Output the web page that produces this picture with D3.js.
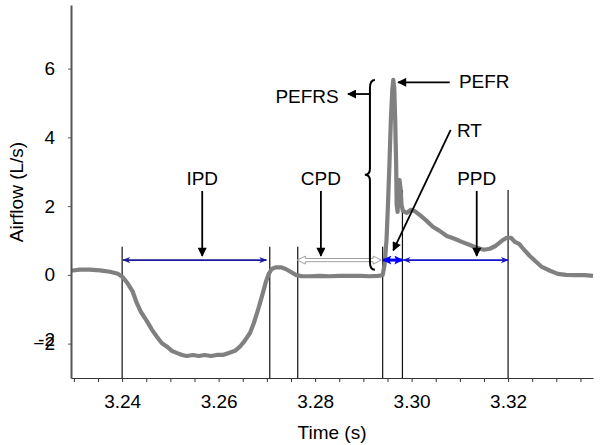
<!DOCTYPE html>
<html>
<head>
<meta charset="utf-8">
<script src="https://cdn.jsdelivr.net/npm/d3@7"></script>
<style>
  body { margin: 0; background: #fff; }
  svg { display: block; font-family: "Liberation Sans", Arial, sans-serif; }
</style>
</head>
<body>
<div id="container"></div>
<script>
"use strict";

// Airflow trace: time (s) and flow (L/s).
const time = [
  3.2294, 3.2312, 3.2333, 3.2354, 3.2375, 3.2391, 3.2401, 3.2412, 3.2422, 3.2430,
  3.2439, 3.2451, 3.2462, 3.2472, 3.2482, 3.2493, 3.2503, 3.2513, 3.2524, 3.2534,
  3.2547, 3.2559, 3.2571, 3.2584, 3.2596, 3.2609, 3.2621, 3.2634, 3.2644, 3.2654,
  3.2665, 3.2673, 3.2681, 3.2690, 3.2698, 3.2704, 3.2710, 3.2718, 3.2729, 3.2739,
  3.2749, 3.2760, 3.2772, 3.2789, 3.2810, 3.2830, 3.2851, 3.2872, 3.2893, 3.2913,
  3.2930, 3.2940, 3.2944, 3.2948, 3.2951, 3.2954, 3.2957, 3.2960, 3.2962, 3.2964,
  3.2966, 3.2968, 3.2969, 3.2971, 3.2973, 3.2975, 3.2977, 3.2979, 3.2982, 3.2990,
  3.2998, 3.3006, 3.3016, 3.3029, 3.3044, 3.3058, 3.3073, 3.3089, 3.3104, 3.3121,
  3.3135, 3.3150, 3.3162, 3.3174, 3.3187, 3.3197, 3.3206, 3.3214, 3.3223, 3.3233,
  3.3245, 3.3258, 3.3270, 3.3287, 3.3303, 3.3320, 3.3339, 3.3359, 3.3376
];
const airflow = [
  0.12, 0.15, 0.15, 0.13, 0.09, 0.03, -0.06, -0.26, -0.49, -0.81,
  -1.08, -1.34, -1.60, -1.80, -1.98, -2.09, -2.21, -2.27, -2.33, -2.36,
  -2.33, -2.36, -2.33, -2.36, -2.33, -2.33, -2.27, -2.21, -2.09, -1.92,
  -1.69, -1.40, -1.05, -0.61, -0.20, 0.03, 0.17, 0.22, 0.22, 0.17,
  0.09, 0.00, -0.04, -0.04, -0.03, -0.04, -0.03, -0.03, -0.03, -0.04,
  -0.03, -0.01, 0.29, 1.02, 2.04, 3.20, 4.51, 5.38, 5.67, 5.44,
  4.51, 3.20, 2.04, 1.83, 2.47, 2.76, 2.53, 2.04, 1.86, 1.80,
  1.89, 1.86, 1.75, 1.60, 1.40, 1.28, 1.13, 1.05, 0.96, 0.87,
  0.79, 0.73, 0.76, 0.84, 0.99, 1.08, 1.08, 0.96, 0.90, 0.73,
  0.55, 0.38, 0.23, 0.12, 0.03, 0.00, -0.01, -0.01, -0.03
];

const xTickValues = d3.range(0, 22).map((i) => (3230 + 5 * i) / 1000);
const yTickValues = [-2, 0, 2, 4, 6];
// The exported figure has a second "-2" printed just above the first one.
const yStrayLabels = [{ value: -1.88, text: "-2" }];

// Event marker lines (s) and the flow level where each one stops.
const markerTimes = [3.2400, 3.2706, 3.2764, 3.2940, 3.2981, 3.3200];
const markerTops = [0.82, 0.82, 0.82, 0.82, 2.47, 2.47];

// Phase spans [start, end] in seconds, all drawn at the same flow level.
const ipdSpan = [3.2402, 3.2699];
const cpdSpan = [3.2763, 3.2937];
const rtSpan = [3.2941, 3.2981];
const ppdSpan = [3.2983, 3.3200];
const spanLevel = 0.43;

// Phase names with a pointer dropping onto the span.
const phaseNames = ["IPD", "CPD", "PPD"];
const phaseTimes = [3.2566, 3.2812, 3.3135];
const phaseText = 2.62;
const phaseArrow = [2.44, 0.55];

const width = 601;
const height = 445;
const fontSize = "19px";

const x = d3.scaleLinear().domain([3.2294, 3.3376]).range([71, 593]);
const y = d3.scaleLinear().domain([-3, 7.85]).range([378, 5]);

const svg = d3.create("svg").attr("width", width).attr("height", height);
const defs = svg.append("defs");

function arrowMarker(id, color, w, h, d) {
  defs
    .append("marker")
    .attr("id", id)
    .attr("viewBox", "0 0 10 10")
    .attr("refX", 9)
    .attr("refY", 5)
    .attr("markerUnits", "userSpaceOnUse")
    .attr("markerWidth", w)
    .attr("markerHeight", h)
    .attr("orient", "auto-start-reverse")
    .append("path")
    .attr("d", d)
    .attr("fill", color);
}
arrowMarker("head-black", "#000", 11, 9, "M0,0 L10,5 L0,10 Z");
arrowMarker("head-navy", "#1a1a9a", 10, 8, "M0,1 L10,5 L0,9 L3,5 Z");
arrowMarker("head-blue", "#1414c8", 10, 8, "M0,1 L10,5 L0,9 L3,5 Z");
arrowMarker("head-rt", "#0000ff", 10, 9, "M0,0 L10,5 L0,10 L2,5 Z");

// Marker lines.
svg
  .append("g")
  .selectAll("line")
  .data(markerTimes)
  .join("line")
  .attr("x1", (d) => x(d))
  .attr("x2", (d) => x(d))
  .attr("y1", (d, i) => y(markerTops[i]))
  .attr("y2", y(-3))
  .attr("stroke", "#111")
  .attr("stroke-width", 1.2);

// Trace.
const points = time.map((t, i) => [t, airflow[i]]);
svg
  .append("path")
  .datum(points)
  .attr("fill", "none")
  .attr("stroke", "#808080")
  .attr("stroke-width", 4.2)
  .attr("stroke-linejoin", "round")
  .attr("d", d3.line().x((d) => x(d[0])).y((d) => y(d[1])));

// Axes.
svg
  .append("g")
  .attr("transform", `translate(0, ${y(-3)})`)
  .style("font-size", fontSize)
  .call(
    d3
      .axisBottom(x)
      .tickValues(xTickValues)
      .tickSize(4)
      .tickSizeOuter(0)
      .tickPadding(13)
      .tickFormat((d) => (Math.round(d * 1000) % 20 === 0 ? d3.format(".2f")(d) : ""))
  )
  .call((g) => g.select(".domain").attr("stroke", "#333").attr("stroke-width", 1.2))
  .call((g) => g.selectAll(".tick line").attr("stroke", "#333"))
  .call((g) => g.selectAll("text").attr("fill", "#000").attr("font-family", null));

svg
  .append("g")
  .attr("transform", `translate(${x.range()[0]}, 0)`)
  .style("font-size", fontSize)
  .call(d3.axisLeft(y).tickValues(yTickValues).tickSize(3).tickSizeOuter(0).tickPadding(13))
  .call((g) => g.select(".domain").attr("stroke", "#555").attr("stroke-width", 2))
  .call((g) => g.selectAll(".tick line").attr("stroke", "#555"))
  .call((g) => g.selectAll("text").attr("fill", "#000").attr("font-family", null));

svg
  .selectAll(".stray")
  .data(yStrayLabels)
  .join("text")
  .attr("x", x.range()[0] - 16)
  .attr("y", (d) => y(d.value))
  .attr("dy", "0.32em")
  .attr("text-anchor", "end")
  .style("font-size", fontSize)
  .text((d) => d.text);

svg
  .append("text")
  .attr("x", (x.range()[0] + x.range()[1]) / 2)
  .attr("y", 439)
  .attr("text-anchor", "middle")
  .style("font-size", fontSize)
  .text("Time (s)");

svg
  .append("text")
  .attr("transform", `translate(23, 192) rotate(-90)`)
  .attr("text-anchor", "middle")
  .style("font-size", fontSize)
  .text("Airflow (L/s)");

// Phase spans.
function span(range, marker, color, w) {
  svg
    .append("line")
    .attr("x1", x(range[0]))
    .attr("x2", x(range[1]))
    .attr("y1", y(spanLevel))
    .attr("y2", y(spanLevel))
    .attr("stroke", color)
    .attr("stroke-width", w)
    .attr("marker-start", `url(#${marker})`)
    .attr("marker-end", `url(#${marker})`);
}
span(ipdSpan, "head-navy", "#1a1a9a", 1.8);
span(ppdSpan, "head-blue", "#1414c8", 1.8);
span(rtSpan, "head-rt", "#0000ff", 3);

// Hollow grey double arrow for CPD.
{
  const x0 = x(cpdSpan[0]);
  const x1 = x(cpdSpan[1]);
  const yc = y(spanLevel);
  const hl = 8;
  const hw = 4;
  const sw = 1.6;
  const pts = [
    [x0, yc], [x0 + hl, yc - hw], [x0 + hl, yc - sw], [x1 - hl, yc - sw], [x1 - hl, yc - hw],
    [x1, yc], [x1 - hl, yc + hw], [x1 - hl, yc + sw], [x0 + hl, yc + sw], [x0 + hl, yc + hw]
  ];
  svg
    .append("polygon")
    .attr("points", pts.map((p) => p.join(",")).join(" "))
    .attr("fill", "#fff")
    .attr("stroke", "#a0a0a0")
    .attr("stroke-width", 1);
}

function pointer(t0, v0, t1, v1) {
  svg
    .append("line")
    .attr("x1", x(t0))
    .attr("y1", y(v0))
    .attr("x2", x(t1))
    .attr("y2", y(v1))
    .attr("stroke", "#000")
    .attr("stroke-width", 1.8)
    .attr("marker-end", "url(#head-black)");
}

function label(t, v, text, anchor) {
  svg
    .append("text")
    .attr("x", x(t))
    .attr("y", y(v))
    .attr("text-anchor", anchor)
    .style("font-size", fontSize)
    .text(text);
}

phaseNames.forEach((name, i) => {
  label(phaseTimes[i], phaseText, name, "middle");
  pointer(phaseTimes[i], phaseArrow[0], phaseTimes[i], phaseArrow[1]);
});

// Peak flow, rise time and the rising section brace.
label(3.3098, 5.44, "PEFR", "start");
pointer(3.3079, 5.6, 3.2972, 5.6);

label(3.3094, 4.01, "RT", "start");
pointer(3.3081, 4.22, 3.2962, 0.71);

label(3.2849, 5.0, "PEFRS", "end");
pointer(3.2912, 5.26, 3.2868, 5.26);

{
  const xr = x(3.2924);
  const xl = x(3.2903);
  const xm = xr - 5;
  const yt = y(5.67);
  const yb = y(0.15);
  const ym = y(2.91);
  svg
    .append("path")
    .attr(
      "d",
      `M${xr},${yt} Q${xm},${yt} ${xm},${yt + 8} L${xm},${ym - 6} Q${xm},${ym} ${xl},${ym} ` +
        `Q${xm},${ym} ${xm},${ym + 6} L${xm},${yb - 8} Q${xm},${yb} ${xr},${yb}`
    )
    .attr("fill", "none")
    .attr("stroke", "#000")
    .attr("stroke-width", 2);
}

d3.select("#container").append(() => svg.node());
</script>
</body>
</html>
